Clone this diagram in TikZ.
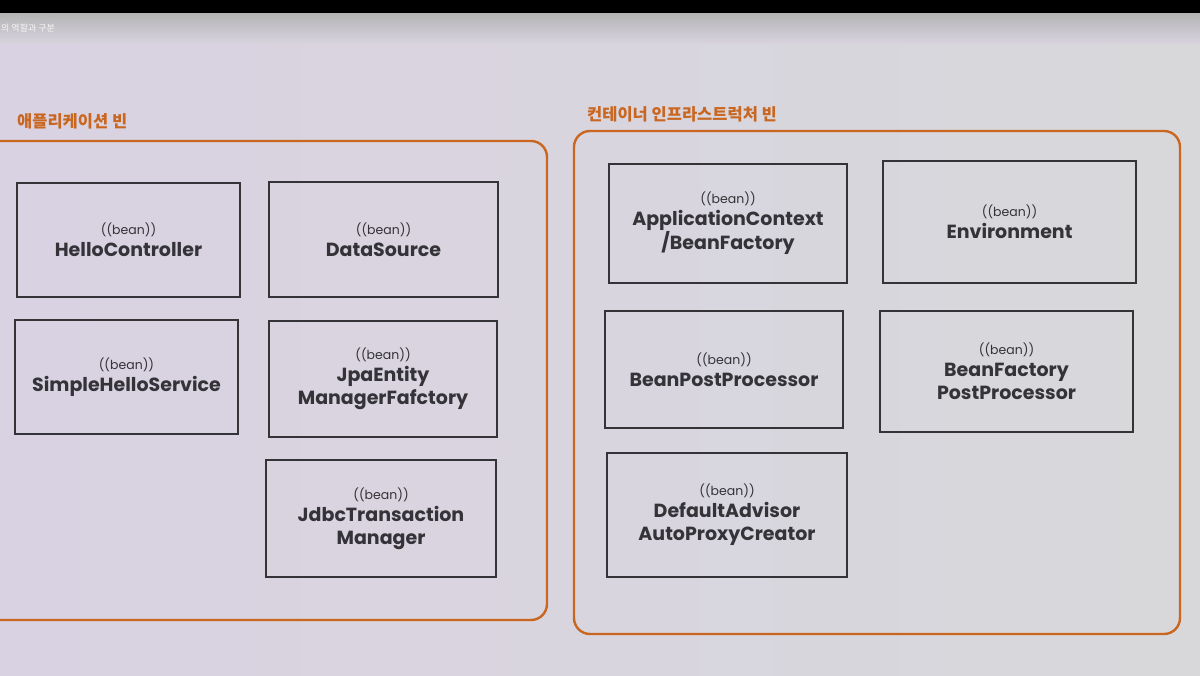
\documentclass[tikz,border=0pt]{standalone}
\usepackage{fontspec}
\setmainfont{Poppins}
\newfontfamily\kofont{Noto Sans CJK KR}
\definecolor{inkgray}{HTML}{343338}
\definecolor{frameorange}{HTML}{C9661F}
\definecolor{screenleft}{HTML}{D9D2E2}
\definecolor{screenright}{HTML}{D8D8DB}
\tikzset{
    every node/.style={font=\fontsize{19}{23}\selectfont\bfseries, text=inkgray,
    	align=center, inner sep=0pt}
}
\tikzset{
    bean/.style 2 args={draw=inkgray, line width=2.6pt, rectangle,
    	minimum width=#1pt, minimum height=#2pt}
}
\tikzset{
	group/.style={draw=frameorange, line width=2.4pt, rounded corners=16pt},
	grouptitle/.style={anchor=west, text=frameorange,
		font=\kofont\fontsize{16.5}{19}\selectfont\bfseries}
}
\newcommand{\stereo}{{\fontsize{12.5}{14}\selectfont\mdseries ((bean))}\\[-1pt]}

\begin{document}
\begin{tikzpicture}[x=1pt, y=-1pt]
	\useasboundingbox (0,0) rectangle (1200,676);
	\shade[left color=screenleft, right color=screenright] (0,0) rectangle (1200,676);
	\shade[top color=gray!60, bottom color=screenleft!60!screenright] (0,12) rectangle (1200,44);
	\fill[black] (0,0) rectangle (1200,13);
	\node (slide) [anchor=west, text=white!92!gray, font=\kofont\fontsize{9}{10}\selectfont] at (1,28) {의 역할과 구분};

	% group frames
	\draw[group] (-30,141) rectangle (547,620);
	\draw[group] (574,131) rectangle (1180,634);
	\node (apptitle) [grouptitle] at (17,121) {애플리케이션 빈};
	\node (infratitle) [grouptitle] at (587,114) {컨테이너 인프라스트럭처 빈};

	% application beans
	\node (hello) [bean={223}{114}] at (128.5,240) {\stereo HelloController};
	\node (simple) [bean={223}{114}] at (126.5,377) {\stereo SimpleHelloService};
	\node (datasource) [bean={229}{115}] at (383.5,239.5) {\stereo DataSource};
	\node (jpa) [bean={228}{116}] at (383,379) {\stereo JpaEntity\\ManagerFafctory};
	\node (jdbc) [bean={230}{117}] at (381,518.5) {\stereo JdbcTransaction\\Manager};

	% infrastructure beans
	\node (appctx) [bean={238}{119}] at (728,223.5) {\stereo ApplicationContext\\/BeanFactory};
	\node (env) [bean={253}{122}] at (1009.5,222) {\stereo Environment};
	\node (bpp) [bean={238}{117}] at (724,369.5) {\stereo BeanPostProcessor};
	\node (bfpp) [bean={253}{121}] at (1006.5,371.5) {\stereo BeanFactory\\PostProcessor};
	\node (advisor) [bean={240}{124}] at (727,515) {\stereo DefaultAdvisor\\AutoProxyCreator};
\end{tikzpicture}
\end{document}
